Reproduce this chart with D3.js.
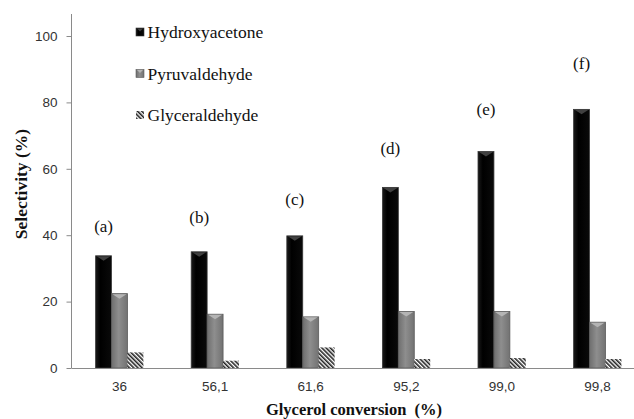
<!DOCTYPE html>
<html>
<head>
<meta charset="utf-8">
<script src="https://cdn.jsdelivr.net/npm/d3@7"></script>
<style>
  html, body { margin: 0; padding: 0; background: #fff; }
  svg { display: block; }
</style>
</head>
<body>
<svg id="chart" width="634" height="419"></svg>
<script>
// ---- data ----
const categories = ["36", "56,1", "61,6", "95,2", "99,0", "99,8"];
const seriesNames = ["Hydroxyacetone", "Pyruvaldehyde", "Glyceraldehyde"];
const hydroxyacetone = [33.8, 35.0, 39.8, 54.4, 65.2, 77.9];
const pyruvaldehyde = [22.4, 16.2, 15.4, 17.0, 17.0, 13.8];
const glyceraldehyde = [4.7, 2.2, 6.2, 2.7, 3.0, 2.7];
const annotations = ["(a)", "(b)", "(c)", "(d)", "(e)", "(f)"];
const annotationY = [42.8, 45.5, 50.9, 66.3, 78.0, 91.9];
const yTicks = [0, 20, 40, 60, 80, 100];

const seriesValues = [hydroxyacetone, pyruvaldehyde, glyceraldehyde];

const SERIF = "'Liberation Serif', 'Times New Roman', serif";
const SANS = "'Liberation Sans', Arial, sans-serif";

// ---- setup ----
const svg = d3.select("#chart");
const defs = svg.append("defs");

const greyGrad = defs.append("linearGradient").attr("id", "greyGrad")
  .attr("x1", "0%").attr("x2", "100%").attr("y1", "0%").attr("y2", "0%");
greyGrad.append("stop").attr("offset", "0%").attr("stop-color", "#6e6e6e");
greyGrad.append("stop").attr("offset", "45%").attr("stop-color", "#8e8e8e");
greyGrad.append("stop").attr("offset", "100%").attr("stop-color", "#727272");

const blackGrad = defs.append("linearGradient").attr("id", "blackGrad")
  .attr("x1", "0%").attr("x2", "100%").attr("y1", "0%").attr("y2", "0%");
blackGrad.append("stop").attr("offset", "0%").attr("stop-color", "#1a1a1a");
blackGrad.append("stop").attr("offset", "30%").attr("stop-color", "#000");
blackGrad.append("stop").attr("offset", "100%").attr("stop-color", "#0a0a0a");

const hatch = defs.append("pattern").attr("id", "hatch")
  .attr("patternUnits", "userSpaceOnUse").attr("width", 3).attr("height", 3)
  .attr("patternTransform", "rotate(-45)");
hatch.append("rect").attr("width", 3).attr("height", 3).attr("fill", "#fff");
hatch.append("rect").attr("width", 1.6).attr("height", 3).attr("fill", "#222");

const fills = ["url(#blackGrad)", "url(#greyGrad)", "url(#hatch)"];
const strokes = ["#3a3a3a", "#5a5a5a", "none"];
const capFills = ["#404040", "#b4b4b4", null];

const x0 = d3.scaleBand().domain(categories).range([71.7, 645.3])
  .paddingInner(0.5).paddingOuter(0.25);
const x1 = d3.scaleBand().domain(seriesNames).range([0, x0.bandwidth()]);
const y = d3.scaleLinear().domain([0, 100]).range([368, 36]);

// ---- y axis ----
const yAxis = svg.append("g").attr("transform", "translate(71.5,0)")
  .call(d3.axisLeft(y).tickValues(yTicks).tickSize(5).tickPadding(9));
yAxis.select(".domain").remove();
yAxis.append("line").attr("x1", 0).attr("x2", 0).attr("y1", 14).attr("y2", y(0))
  .attr("stroke", "#8a8a8a");
yAxis.selectAll(".tick line").attr("stroke", "#8a8a8a");
yAxis.selectAll(".tick text")
  .style("font-family", SANS).style("font-size", "13.5px").attr("fill", "#333");

// ---- bars ----
const groups = svg.append("g").selectAll("g").data(categories).join("g")
  .attr("transform", d => `translate(${x0(d)},0)`);

seriesNames.forEach((name, si) => {
  const bx = x1(name);
  const w = x1.bandwidth();
  groups.append("rect")
    .attr("x", bx).attr("width", w)
    .attr("y", (d, i) => y(seriesValues[si][i]))
    .attr("height", (d, i) => y(0) - y(seriesValues[si][i]))
    .attr("fill", fills[si])
    .attr("stroke", strokes[si]).attr("stroke-width", 0.8);
  if (capFills[si]) {
    groups.append("path")
      .attr("d", (d, i) => {
        const t = y(seriesValues[si][i]);
        return `M${bx + 1},${t + 0.5} L${bx + w - 1},${t + 0.5} L${bx + w / 2},${t + 5} Z`;
      })
      .attr("fill", capFills[si]);
  }
});

// ---- x axis ----
svg.append("line").attr("x1", 71.5).attr("x2", 634).attr("y1", y(0) + 0.5).attr("y2", y(0) + 0.5)
  .attr("stroke", "#8a8a8a");
const xAxis = svg.append("g").attr("transform", `translate(0,${y(0)})`)
  .call(d3.axisBottom(x0).tickSize(0).tickPadding(13));
xAxis.select(".domain").remove();
xAxis.selectAll(".tick text")
  .style("font-family", SANS).style("font-size", "13.5px").attr("fill", "#333");

// ---- annotations ----
svg.append("g").selectAll("text").data(categories).join("text")
  .attr("x", (d) => x0(d) + x1(seriesNames[0]) + x1.bandwidth() / 2)
  .attr("y", (d, i) => y(annotationY[i]))
  .attr("dy", "0.35em")
  .attr("text-anchor", "middle")
  .style("font-family", SERIF).style("font-size", "17px").attr("fill", "#111")
  .text((d, i) => annotations[i]);

// ---- legend ----
const legendY = d3.scalePoint().domain(seriesNames).range([32, 115]);
const leg = svg.append("g").selectAll("g").data(seriesNames).join("g")
  .attr("transform", d => `translate(136,${legendY(d)})`);
leg.append("rect").attr("x", 0).attr("y", -4).attr("width", 8).attr("height", 8)
  .attr("fill", (d, i) => fills[i]).attr("stroke", (d, i) => strokes[i]).attr("stroke-width", 0.6);
leg.filter((d, i) => capFills[i]).append("path")
  .attr("d", "M1,-3.5 L7,-3.5 L4,-0.5 Z")
  .attr("fill", (d) => capFills[seriesNames.indexOf(d)]);
leg.append("text").attr("x", 11.5).attr("y", 0).attr("dy", "0.35em")
  .style("font-family", SERIF).style("font-size", "17.5px").attr("fill", "#111")
  .text(d => d);

// ---- axis titles ----
svg.append("text").attr("x", 354).attr("y", 409).attr("dy", "0.35em")
  .attr("text-anchor", "middle")
  .style("font-family", SERIF).style("font-weight", "bold").style("font-size", "16.5px")
  .style("white-space", "pre").attr("fill", "#111")
  .text("Glycerol conversion  (%)");

svg.append("text")
  .attr("transform", "translate(21,184) rotate(-90)")
  .attr("dy", "0.35em")
  .attr("text-anchor", "middle")
  .style("font-family", SERIF).style("font-weight", "bold").style("font-size", "17.5px")
  .attr("fill", "#111")
  .text("Selectivity (%)");
</script>
</body>
</html>
